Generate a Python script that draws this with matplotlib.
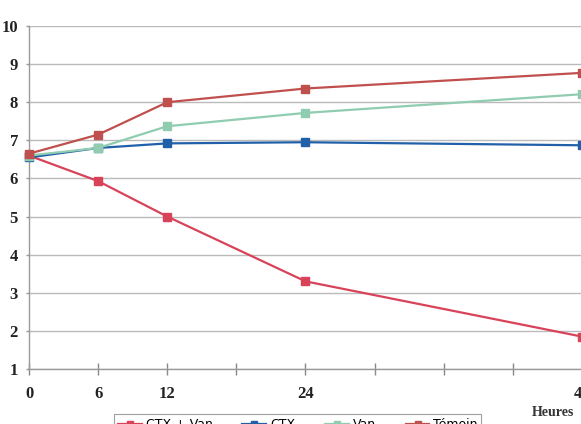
import matplotlib
matplotlib.use("Agg")
import matplotlib.pyplot as plt
from matplotlib.ticker import FixedLocator

hours = [0, 6, 12, 24, 48]
ctx_van = [6.6, 5.93, 5.0, 3.3, 1.85]
ctx = [6.55, 6.8, 6.92, 6.95, 6.87]
van = [6.6, 6.8, 7.37, 7.72, 8.21]
temoin = [6.65, 7.15, 8.0, 8.36, 8.77]
series_names = ["CTX + Van", "CTX", "Van", "Témoin"]
x_labels = ["0", "6", "12", "", "24", "", "", "", "48"]
y_ticks = list(range(1, 11))

colors = ["#D9435A", "#2160A8", "#8FCCB0", "#C0504D"]

fig = plt.figure(figsize=(5.81, 4.24), dpi=100)
W, H = 581, 424
ax = fig.add_axes([29 / W, 55 / H, (582 - 29) / W, 343 / H])

for vals, name, c in zip([ctx_van, ctx, van, temoin], series_names, colors):
    ax.plot(hours, vals, color=c, lw=1.6, marker="s", ms=5.5,
            markerfacecolor=c, markeredgecolor=c, label=name, clip_on=False, zorder=3)

ax.set_xlim(0, 48)
ax.set_ylim(1, 10)
ax.set_yticks(y_ticks)
ax.yaxis.grid(True, color="#BBBBBB", lw=1.0)
ax.set_axisbelow(True)
ax.xaxis.set_major_locator(FixedLocator(list(range(0, 49, 6))))
ax.set_xticklabels(x_labels)

for s in ["top", "right"]:
    ax.spines[s].set_visible(False)
for s in ["left", "bottom"]:
    ax.spines[s].set_color("#999999")
    ax.spines[s].set_linewidth(1.0)

ax.tick_params(axis="x", direction="inout", length=8, color="#888888", width=1.0, pad=8)
ax.tick_params(axis="y", direction="out", length=2, color="#999999", width=1.0, pad=6)
for lab in ax.get_xticklabels() + ax.get_yticklabels():
    lab.set_fontfamily("Liberation Serif")
    lab.set_fontweight("bold")
    lab.set_fontsize(12)
    lab.set_color("#222222")

fig.text(532 / W, 1 - 413 / H, "Heures", fontfamily="Liberation Serif",
         fontweight="bold", fontsize=10, color="#333333", ha="left", va="center")

leg = fig.legend(loc="upper left", bbox_to_anchor=(108 / W, 1 - 408 / H), ncol=4,
                 frameon=True, fancybox=False, edgecolor="#888888",
                 prop={"family": "DejaVu Sans", "size": 9},
                 handlelength=1.9, columnspacing=2.4, handletextpad=0.3,
                 borderpad=0.3, markerscale=0.9)
leg.get_frame().set_linewidth(0.8)

fig.savefig("out.png", dpi=100)
